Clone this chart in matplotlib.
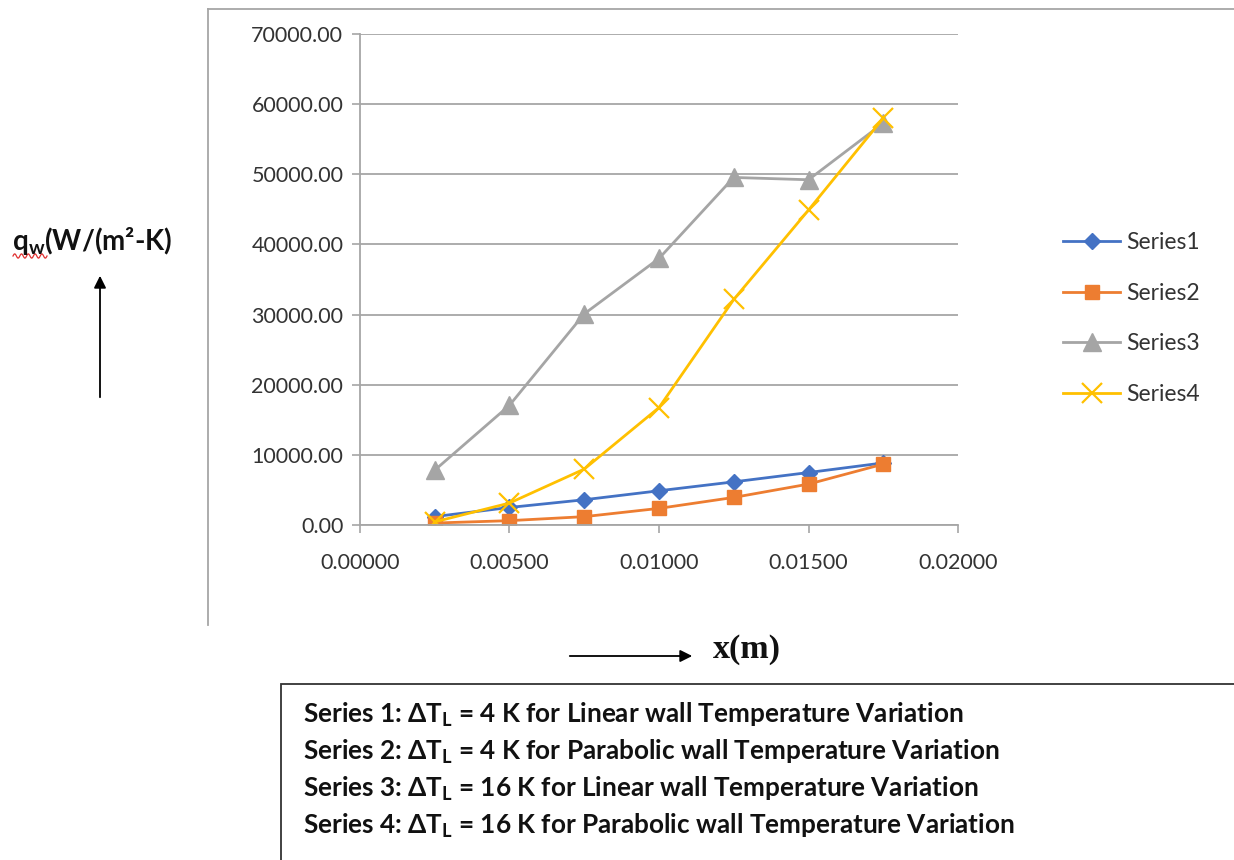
import numpy as np
import matplotlib
matplotlib.use("Agg")
import matplotlib.pyplot as plt
from matplotlib.lines import Line2D
from matplotlib.patches import Rectangle, FancyArrowPatch
from matplotlib.ticker import FormatStrFormatter

# heat flux along the wall, four cases
x_pos = [0.0025, 0.0050, 0.0075, 0.0100, 0.0125, 0.0150, 0.0175]
series1 = [1200, 2500, 3600, 4880, 6150, 7480, 8850]
series2 = [280, 620, 1190, 2370, 3930, 5830, 8680]
series3 = [7820, 17070, 30100, 38000, 49550, 49220, 57300]
series4 = [450, 3130, 7970, 16740, 32150, 44900, 58000]
series_names = ["Series1", "Series2", "Series3", "Series4"]
case_notes = [
    "Series 1: ΔT$_{\\mathrm{L}}$ = 4 K for Linear wall Temperature Variation",
    "Series 2: ΔT$_{\\mathrm{L}}$ = 4 K for Parabolic wall Temperature Variation",
    "Series 3: ΔT$_{\\mathrm{L}}$ = 16 K for Linear wall Temperature Variation",
    "Series 4: ΔT$_{\\mathrm{L}}$ = 16 K for Parabolic wall Temperature Variation",
]

plt.rcParams["font.family"] = ["Lato", "DejaVu Sans"]
plt.rcParams["mathtext.fontset"] = "custom"
plt.rcParams["mathtext.rm"] = "Lato:bold"
plt.rcParams["mathtext.it"] = "Lato:bold"

W, H = 1234, 860
fig = plt.figure(figsize=(W / 100, H / 100), dpi=100)


def fx(px):
    return px / W


def fy(py):
    return 1 - py / H


ax = fig.add_axes([fx(360), fy(525), fx(958) - fx(360), fy(34) - fy(525)])

styles = [
    dict(color="#4472C4", marker="D", markersize=8.5),
    dict(color="#ED7D31", marker="s", markersize=10),
    dict(color="#A5A5A5", marker="^", markersize=12.5),
    dict(color="#FFC000", marker="x", markersize=15, markeredgewidth=1.6),
]
for ys, name, st in zip([series1, series2, series3, series4], series_names, styles):
    ax.plot(x_pos, ys, label=name, linewidth=2.0, **st)

ax.set_xlim(0, 0.02)
ax.set_ylim(0, 70000)
ax.set_xticks(np.arange(0, 0.0201, 0.005))
ax.set_yticks(np.arange(0, 70001, 10000))
ax.xaxis.set_major_formatter(FormatStrFormatter("%.5f"))
ax.yaxis.set_major_formatter(FormatStrFormatter("%.2f"))
ax.grid(axis="y", color="#A6A6A6", linewidth=1.3)
ax.set_axisbelow(True)
for s in ["top", "right"]:
    ax.spines[s].set_visible(False)
for s in ["left", "bottom"]:
    ax.spines[s].set_color("#A6A6A6")
    ax.spines[s].set_linewidth(1.3)
ax.tick_params(colors="#A6A6A6", labelcolor="#333333", labelsize=15.5, length=6, width=1.2)
ax.tick_params(axis="x", pad=14)
ax.tick_params(axis="y", pad=6)

ax.legend(loc="center left", bbox_to_anchor=(fx(1054), fy(318.5)), bbox_transform=fig.transFigure,
          frameon=False, fontsize=16.5, handlelength=2.5, handletextpad=0.27, labelspacing=1.3,
          borderaxespad=0, labelcolor="#333333")

# chart area border (top and left only visible)
fig.add_artist(Line2D([fx(208), 1], [fy(9), fy(9)], color="#A6A6A6", linewidth=1.3))
fig.add_artist(Line2D([fx(208), fx(208)], [fy(9), fy(625)], color="#A6A6A6", linewidth=1.3))

# y label with upward arrow
fig.text(fx(12), fy(250), "q$_{\\mathrm{w}}$(W/(m²-K)", fontsize=20, fontweight="bold",
         ha="left", va="baseline", color="#111111")
sq_x = np.linspace(fx(13), fx(47), 60)
sq_y = fy(256) + 0.0025 * np.sin(np.linspace(0, 10 * np.pi, 60))
fig.add_artist(Line2D(sq_x, sq_y, color="#E03030", linewidth=0.9))
fig.add_artist(FancyArrowPatch((fx(100), fy(400)), (fx(100), fy(273)),
               transform=fig.transFigure, arrowstyle="-|>", mutation_scale=18,
               color="black", linewidth=1.3))

# x label with right arrow
fig.text(fx(713), fy(658), "x(m)", fontsize=24.5, fontweight="bold",
         family="Liberation Serif", ha="left", va="baseline", color="#111111")
fig.add_artist(FancyArrowPatch((fx(567), fy(656)), (fx(695), fy(656)),
               transform=fig.transFigure, arrowstyle="-|>", mutation_scale=18,
               color="black", linewidth=1.3))

# case description box
fig.add_artist(Rectangle((fx(281), -0.01), 1.0, fy(684) + 0.01, transform=fig.transFigure,
                         facecolor="none", edgecolor="#333333", linewidth=1.3))
for i, note in enumerate(case_notes):
    fig.text(fx(303), fy(723 + i * 37), note, fontsize=18.8, fontweight="bold",
             ha="left", va="baseline", color="#111111")

fig.savefig("out.png", dpi=100)
